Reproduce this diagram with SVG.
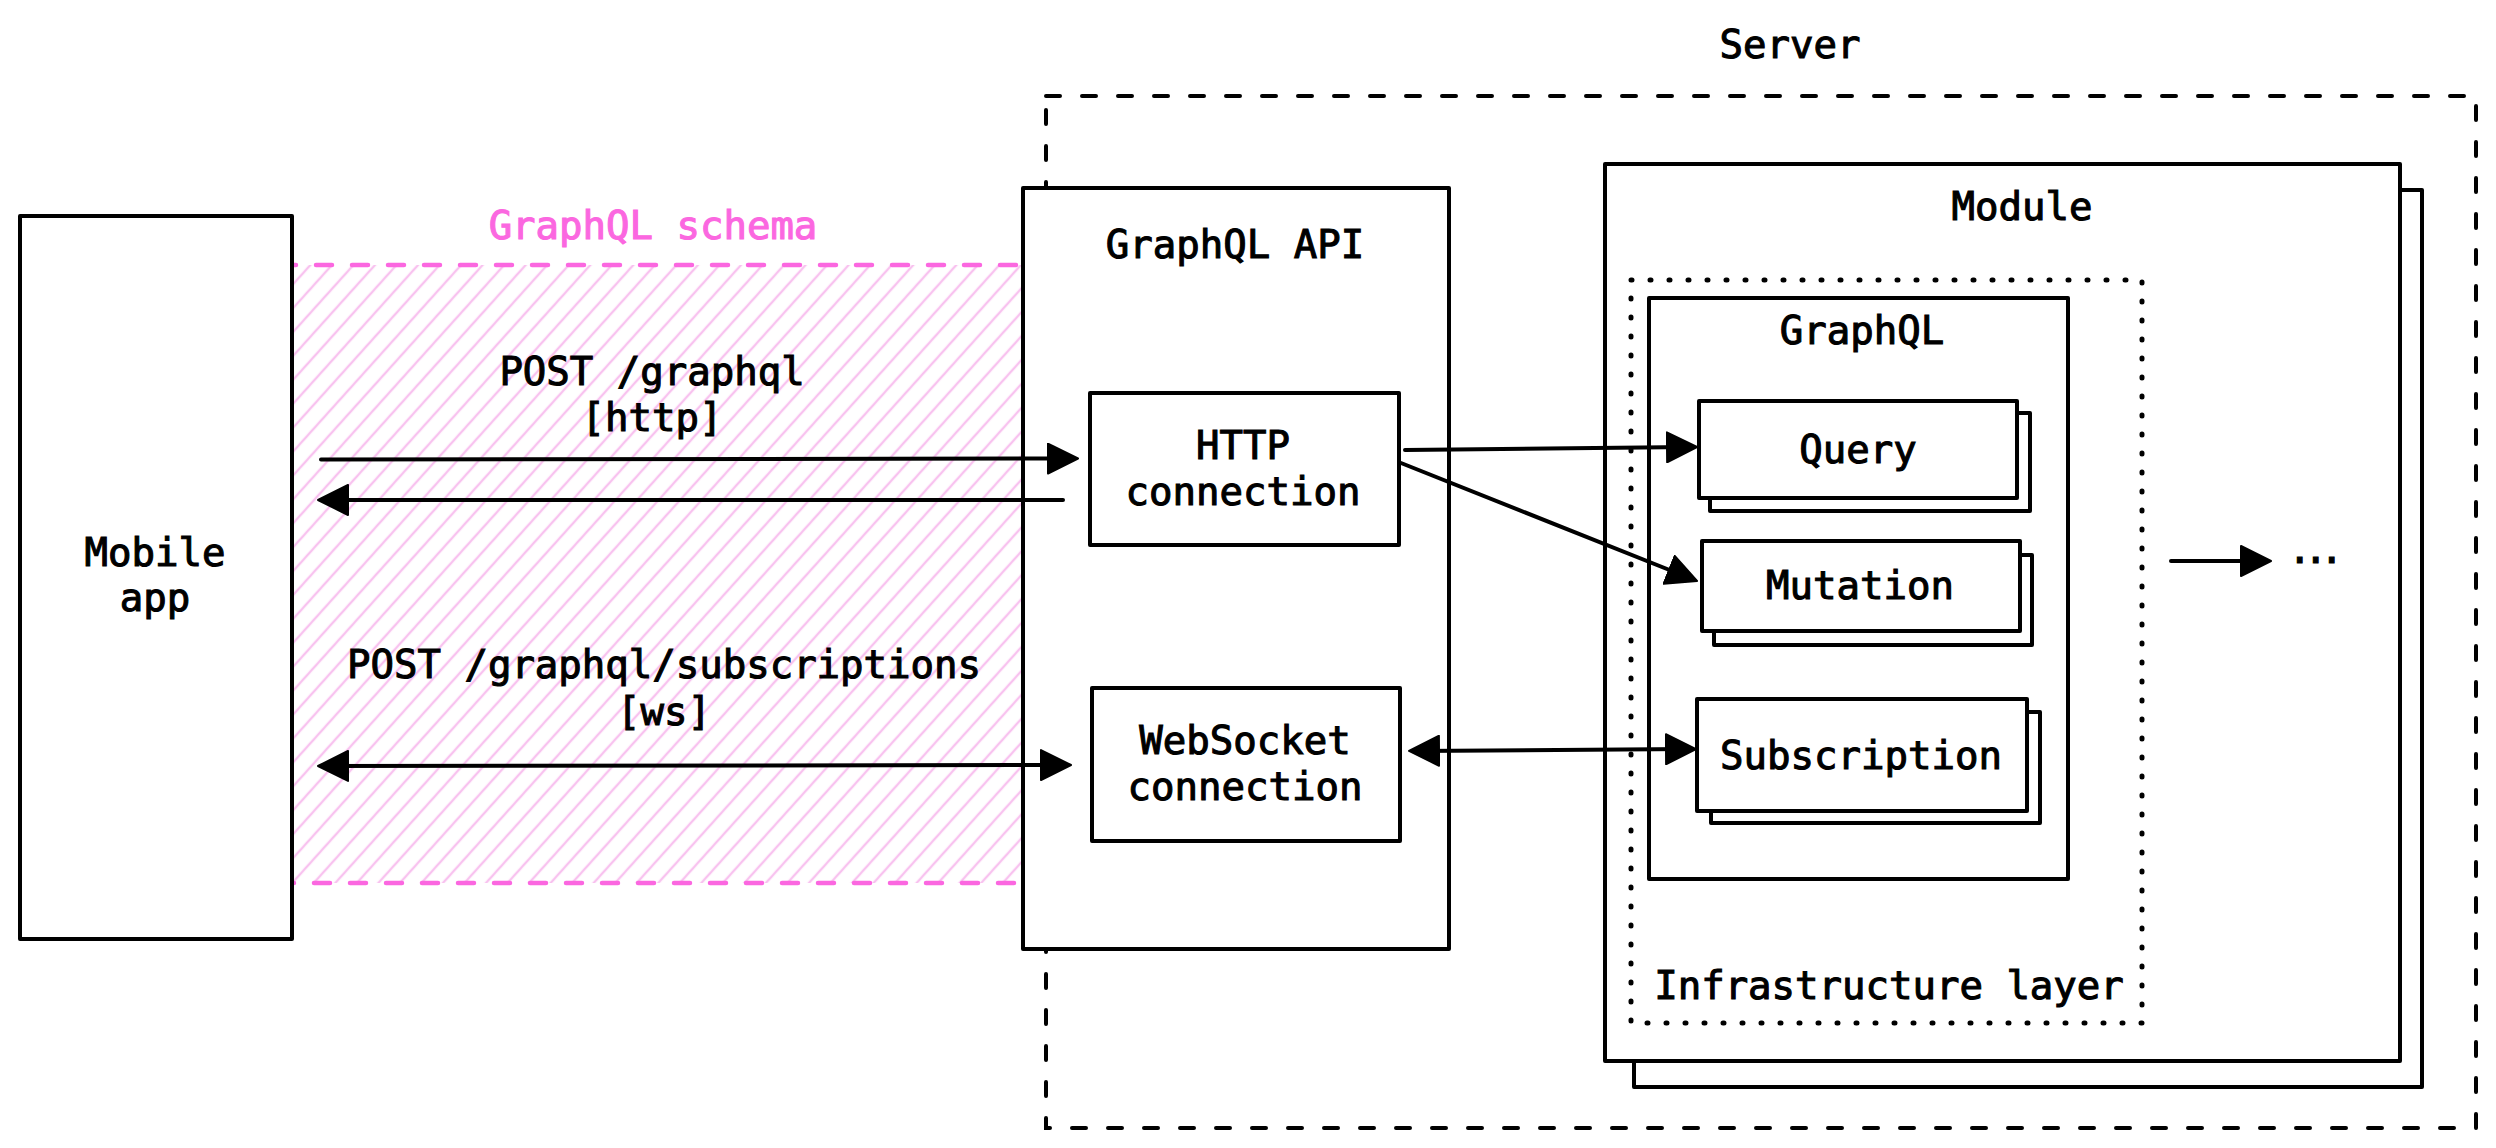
<svg xmlns="http://www.w3.org/2000/svg" width="2496" height="1148" viewBox="0 0 2496 1148">
  <defs>
    <style>
      text { font-family: "DejaVu Sans Mono", "Liberation Mono", monospace; font-size: 39px; fill: #000; stroke: #000; stroke-width: 1.1px; text-anchor: middle; }
      .box { fill: #fff; stroke: #000; stroke-width: 4; stroke-linejoin: round; }
      text.pink { fill: #fb67e0; stroke: #fb67e0; }
      .conn { fill: none; stroke: #000; stroke-width: 4; stroke-linecap: round; }
    </style>
    <pattern id="hatch" patternUnits="userSpaceOnUse" width="16" height="16" patternTransform="rotate(42)">
      <line x1="8" y1="-2" x2="8" y2="18" stroke="#f8c2ef" stroke-width="2.4"/>
    </pattern>
    <marker id="arrow" markerUnits="userSpaceOnUse" viewBox="0 0 32 32" markerWidth="32" markerHeight="32" refX="23" refY="16" orient="auto-start-reverse">
      <path d="M1,1 L31,16 L1,31 Z" fill="#000" stroke="#000" stroke-width="2" stroke-linejoin="round"/>
    </marker>
  </defs>

  <rect width="2496" height="1148" fill="#fff"/>

  <g id="server">
    <rect x="1046" y="96" width="1430" height="1032" fill="none" stroke="#000" stroke-width="4" stroke-dasharray="14 22" stroke-linecap="round"/>
    <text x="1790" y="58">Server</text>
  </g>

  <g id="graphql-schema">
    <rect x="280" y="265" width="760" height="618" fill="url(#hatch)" stroke="#fb67e0" stroke-width="4.5" stroke-dasharray="16 20" stroke-linecap="round"/>
    <text class="pink" x="653" y="239">GraphQL schema</text>
  </g>

  <g id="mobile-app">
    <rect class="box" x="20" y="216" width="272" height="723"/>
    <text x="155" y="566">Mobile</text>
    <text x="155" y="611">app</text>
  </g>

  <g id="graphql-api">
    <rect class="box" x="1023" y="188" width="426" height="761"/>
    <text x="1235" y="258">GraphQL API</text>
  </g>

  <g id="http-connection">
    <rect class="box" x="1090" y="393" width="309" height="152"/>
    <text x="1243" y="459">HTTP</text>
    <text x="1243" y="505">connection</text>
  </g>

  <g id="websocket-connection">
    <rect class="box" x="1092" y="688" width="308" height="153"/>
    <text x="1245" y="754">WebSocket</text>
    <text x="1245" y="800">connection</text>
  </g>

  <g id="module">
    <rect class="box" x="1634" y="190" width="788" height="897"/>
    <rect class="box" x="1605" y="164" width="795" height="897"/>
    <text x="2022" y="220">Module</text>
  </g>

  <g id="infrastructure-layer">
    <rect x="1631" y="280" width="511" height="743" fill="none" stroke="#000" stroke-width="5" stroke-dasharray="1 18" stroke-linecap="round"/>
    <text x="1889" y="999">Infrastructure layer</text>
  </g>

  <g id="graphql">
    <rect class="box" x="1649" y="298" width="419" height="581"/>
    <text x="1862" y="344">GraphQL</text>
  </g>

  <g id="query">
    <rect class="box" x="1710" y="413" width="320" height="98"/>
    <rect class="box" x="1699" y="401" width="318" height="97"/>
    <text x="1858" y="463">Query</text>
  </g>

  <g id="mutation">
    <rect class="box" x="1714" y="555" width="318" height="90"/>
    <rect class="box" x="1702" y="541" width="318" height="90"/>
    <text x="1860" y="599">Mutation</text>
  </g>

  <g id="subscription">
    <rect class="box" x="1711" y="712" width="329" height="111"/>
    <rect class="box" x="1697" y="699" width="330" height="112"/>
    <text x="1861" y="769">Subscription</text>
  </g>

  <g id="labels">
    <text x="652" y="385">POST /graphql</text>
    <text x="652" y="431">[http]</text>
    <text x="664" y="678">POST /graphql/subscriptions</text>
    <text x="664" y="725">[ws]</text>
    <text x="2288" y="563" style="text-anchor:start; letter-spacing:-7.5px">...</text>
  </g>

  <g id="connectors">
    <path class="conn" d="M321,459.5 L1070,458.5" marker-end="url(#arrow)"/>
    <path class="conn" d="M1063,500 L326,500" marker-end="url(#arrow)"/>
    <path class="conn" d="M326,766 L1063,765" marker-start="url(#arrow)" marker-end="url(#arrow)"/>
    <path class="conn" d="M1405,450 L1689,447.1" marker-end="url(#arrow)"/>
    <path class="conn" d="M1401,463 L1689.6,578" marker-end="url(#arrow)"/>
    <path class="conn" d="M1417,750.9 L1688,749.1" marker-start="url(#arrow)" marker-end="url(#arrow)"/>
    <path class="conn" d="M2171,561 L2263,561" marker-end="url(#arrow)"/>
  </g>
</svg>
